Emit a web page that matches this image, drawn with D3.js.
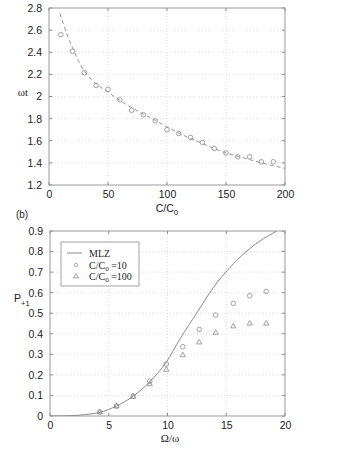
<!DOCTYPE html>
<html>
<head>
<meta charset="utf-8">
<script src="https://cdn.jsdelivr.net/npm/d3@7"></script>
<style>
  body { margin: 0; background: #fff; }
  text { font-family: "Liberation Sans", Arial, sans-serif; fill: #222; }
  .serif { font-family: "Liberation Serif", "Times New Roman", serif; }
</style>
</head>
<body>
<svg id="chart" width="357" height="457"></svg>
<script>
// panel (a): omega t vs C/C0
const ratioC = [10, 20, 30, 40, 50, 60, 70, 80, 90, 100, 110, 120, 130, 140, 150, 160, 170, 180, 190];
const omegaT = [2.56, 2.41, 2.215, 2.10, 2.065, 1.97, 1.875, 1.835, 1.78, 1.70, 1.665, 1.63, 1.585, 1.53, 1.49, 1.455, 1.455, 1.41, 1.41];
const fitX = [9.3, 15, 20, 25, 30, 40, 50, 60, 70, 80, 90, 100, 110, 120, 130, 140, 150, 160, 170, 180, 190, 200];
const fitY = [2.75, 2.57, 2.44, 2.32, 2.23, 2.115, 2.04, 1.965, 1.90, 1.84, 1.785, 1.725, 1.67, 1.62, 1.575, 1.53, 1.49, 1.46, 1.43, 1.40, 1.375, 1.35];

// panel (b): P+1 vs Omega/omega
const omegaRatio = [4.24, 5.66, 7.07, 8.49, 9.9, 11.3, 12.7, 14.1, 15.6, 17.0, 18.4];
const pC10 = [0.02, 0.049, 0.097, 0.169, 0.253, 0.337, 0.421, 0.491, 0.548, 0.585, 0.606];
const pC100 = [0.02, 0.049, 0.095, 0.157, 0.227, 0.298, 0.36, 0.407, 0.438, 0.452, 0.452];
const mlzX = [0, 1, 2, 3, 4.25, 5.67, 7.09, 8.5, 9.93, 11.06, 12.48, 13.9, 15.3, 16.7, 18.15, 19.3];
const mlzY = [0, 0.0005, 0.002, 0.007, 0.018, 0.049, 0.097, 0.167, 0.265, 0.375, 0.50, 0.625, 0.722, 0.80, 0.862, 0.9];

const topTicksX = [0, 50, 100, 150, 200];
const topTicksY = [1.2, 1.4, 1.6, 1.8, 2, 2.2, 2.4, 2.6, 2.8];
const botTicksX = [0, 5, 10, 15, 20];
const botTicksY = [0, 0.1, 0.2, 0.3, 0.4, 0.5, 0.6, 0.7, 0.8, 0.9];

const svg = d3.select("#chart");
const gray = "#8a8a8a";

function frame(x, y, xt, yt, xFmt, yFmt) {
  const [x0, x1] = x.range(), [y0, y1] = y.range();
  const g = svg.append("g");
  // dotted grid
  g.selectAll(".gx").data(xt.slice(1, -1)).join("line")
    .attr("x1", d => x(d)).attr("x2", d => x(d)).attr("y1", y0).attr("y2", y1)
    .attr("stroke", "#c8c8c8").attr("stroke-width", 0.6).attr("stroke-dasharray", "1,2");
  g.selectAll(".gy").data(yt.slice(1, -1)).join("line")
    .attr("y1", d => y(d)).attr("y2", d => y(d)).attr("x1", x0).attr("x2", x1)
    .attr("stroke", "#c8c8c8").attr("stroke-width", 0.6).attr("stroke-dasharray", "1,2");
  // inward tick marks on all sides
  const tk = 3;
  xt.forEach(d => {
    g.append("line").attr("x1", x(d)).attr("x2", x(d)).attr("y1", y0).attr("y2", y0 - tk).attr("stroke", gray);
    g.append("line").attr("x1", x(d)).attr("x2", x(d)).attr("y1", y1).attr("y2", y1 + tk).attr("stroke", gray);
  });
  yt.forEach(d => {
    g.append("line").attr("y1", y(d)).attr("y2", y(d)).attr("x1", x0).attr("x2", x0 + tk).attr("stroke", gray);
    g.append("line").attr("y1", y(d)).attr("y2", y(d)).attr("x1", x1).attr("x2", x1 - tk).attr("stroke", gray);
  });
  g.append("rect").attr("x", x0).attr("y", y1).attr("width", x1 - x0).attr("height", y0 - y1)
    .attr("fill", "none").attr("stroke", "#9a9a9a").attr("stroke-width", 1);
  // labels through d3 axes
  const ax = svg.append("g").attr("transform", `translate(0,${y0})`)
    .call(d3.axisBottom(x).tickValues(xt).tickSize(0).tickPadding(6).tickFormat(xFmt));
  ax.select(".domain").remove();
  ax.selectAll("text").attr("font-size", 10.5).attr("font-family", "Liberation Sans, Arial, sans-serif").attr("fill", "#222");
  const ay = svg.append("g").attr("transform", `translate(${x0},0)`)
    .call(d3.axisLeft(y).tickValues(yt).tickSize(0).tickPadding(7).tickFormat(yFmt));
  ay.select(".domain").remove();
  ay.selectAll("text").attr("font-size", 10.5).attr("font-family", "Liberation Sans, Arial, sans-serif").attr("fill", "#222");
  return g;
}

function triangle(g, cx, cy) {
  const s = 2.6;
  g.append("path").attr("d", `M${cx},${cy - s}L${cx + s},${cy + s * 0.75}L${cx - s},${cy + s * 0.75}Z`)
    .attr("fill", "none").attr("stroke", gray).attr("stroke-width", 0.8);
}

// ---------- top panel ----------
const xA = d3.scaleLinear().domain([0, 200]).range([49, 285]);
const yA = d3.scaleLinear().domain([1.2, 2.8]).range([185, 8]);
frame(xA, yA, topTicksX, topTicksY, d3.format("d"), d => d === 2 ? "2" : d3.format(".1f")(d));

svg.append("path")
  .datum(fitX.map((d, i) => [d, fitY[i]]))
  .attr("d", d3.line().x(d => xA(d[0])).y(d => yA(d[1])).curve(d3.curveMonotoneX))
  .attr("fill", "none").attr("stroke", gray).attr("stroke-width", 0.9).attr("stroke-dasharray", "4,3");

svg.append("g").selectAll("circle").data(ratioC).join("circle")
  .attr("cx", d => xA(d)).attr("cy", (d, i) => yA(omegaT[i])).attr("r", 2.3)
  .attr("fill", "none").attr("stroke", gray).attr("stroke-width", 0.8);

svg.append("text").attr("class", "serif").attr("x", 23).attr("y", 96).attr("text-anchor", "middle")
  .attr("font-size", 11).text("ωt");
const lblA = svg.append("text").attr("x", 167).attr("y", 212).attr("text-anchor", "middle").attr("font-size", 10.5);
lblA.append("tspan").text("C/C");
lblA.append("tspan").attr("font-size", 8).attr("dy", 3).text("0");

svg.append("text").attr("x", 22).attr("y", 218).attr("text-anchor", "middle").attr("font-size", 10).text("(b)");

// ---------- bottom panel ----------
const xB = d3.scaleLinear().domain([0, 20]).range([50, 285]);
const yB = d3.scaleLinear().domain([0, 0.9]).range([416, 231]);
frame(xB, yB, botTicksX, botTicksY, d3.format("d"), d => d === 0 ? "0" : d3.format(".1f")(d));

svg.append("defs").append("clipPath").attr("id", "clipB").append("rect")
  .attr("x", 50).attr("y", 231).attr("width", 235).attr("height", 185);

svg.append("path")
  .datum(mlzX.map((d, i) => [d, mlzY[i]]))
  .attr("clip-path", "url(#clipB)")
  .attr("d", d3.line().x(d => xB(d[0])).y(d => yB(d[1])).curve(d3.curveMonotoneX))
  .attr("fill", "none").attr("stroke", gray).attr("stroke-width", 1);

svg.append("g").selectAll("circle").data(omegaRatio).join("circle")
  .attr("cx", d => xB(d)).attr("cy", (d, i) => yB(pC10[i])).attr("r", 2.3)
  .attr("fill", "none").attr("stroke", gray).attr("stroke-width", 0.8);
const triG = svg.append("g");
omegaRatio.forEach((d, i) => triangle(triG, xB(d), yB(pC100[i])));

const pl = svg.append("text").attr("x", 14).attr("y", 302).attr("font-size", 10.5);
pl.append("tspan").text("P");
pl.append("tspan").attr("font-size", 7.5).attr("dy", 4).text("+1");

svg.append("text").attr("class", "serif").attr("x", 170).attr("y", 442).attr("text-anchor", "middle")
  .attr("font-size", 11).text("Ω/ω");

// legend
const lg = svg.append("g");
lg.append("rect").attr("x", 61).attr("y", 242).attr("width", 78).attr("height", 44)
  .attr("fill", "#fff").attr("stroke", gray).attr("stroke-width", 0.8);
lg.append("line").attr("x1", 67).attr("x2", 82).attr("y1", 253).attr("y2", 253).attr("stroke", gray);
lg.append("circle").attr("cx", 76).attr("cy", 265).attr("r", 1.8).attr("fill", "none").attr("stroke", gray).attr("stroke-width", 0.7);
triangle(lg, 76, 276);
lg.append("text").attr("class", "serif").attr("x", 89).attr("y", 256.5).attr("font-size", 10).text("MLZ");
[["=10", 268.5], ["=100", 279.5]].forEach(([v, y]) => {
  const t = lg.append("text").attr("class", "serif").attr("x", 89).attr("y", y).attr("font-size", 10);
  t.append("tspan").text("C/C");
  t.append("tspan").attr("font-size", 7).attr("dy", 2).text("0");
  t.append("tspan").attr("dy", -2).text(" " + v);
});
</script>
</body>
</html>
